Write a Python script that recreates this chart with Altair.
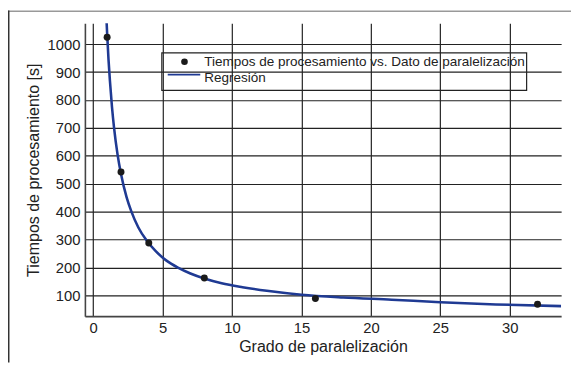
import altair as alt
import pandas as pd

# Measured data points
grado = [1, 2, 4, 8, 16, 32]
tiempos = [1025, 542, 287, 162, 88, 68]

# Regression curve
reg_x = [0.9, 1.0, 1.1, 1.2, 1.35, 1.5, 1.75, 2.0, 2.4, 2.75, 3.25, 3.86, 4.5, 5.25, 6.1,
         7.0, 8.0, 9.25, 10.75, 12.5, 15.0, 18.0, 21.5, 25.0, 29.0, 33.7]
reg_y = [1145, 1040, 945, 870, 775, 700, 605, 535, 452, 400, 343, 295, 258, 225, 199,
         178, 160, 143, 129, 116, 102, 92, 84, 75, 67, 61]

x_ticks = [0, 5, 10, 15, 20, 25, 30]
y_ticks = [100, 200, 300, 400, 500, 600, 700, 800, 900, 1000]

legend_labels = ["Tiempos de procesamiento vs. Dato de paralelización", "Regresión"]

FONT = "Liberation Sans"
pts = pd.DataFrame({"grado": grado, "tiempo": tiempos})
reg = pd.DataFrame({"grado": reg_x, "tiempo": reg_y})
one = pd.DataFrame({"k": [0]})

x_scale = alt.Scale(domain=[-0.6, 33.7], nice=False, zero=False)
y_scale = alt.Scale(domain=[25, 1075], nice=False, zero=False)

x_enc = alt.X("grado:Q", scale=x_scale,
              axis=alt.Axis(title="Grado de paralelización", values=x_ticks, format="d",
                            tickCount=len(x_ticks), labelOverlap=False))
y_enc = alt.Y("tiempo:Q", scale=y_scale,
              axis=alt.Axis(title="Tiempos de procesamiento [s]", values=y_ticks, format="d",
                            tickCount=len(y_ticks), labelOverlap=False))

line = alt.Chart(reg).mark_line(color="#1f3a93", strokeWidth=2.6, clip=True,
                                interpolate="monotone").encode(x=x_enc, y=y_enc)
points = alt.Chart(pts).mark_point(filled=True, color="#1a1a1a", size=50, opacity=1).encode(
    x="grado:Q", y="tiempo:Q")

# Legend (manual)
leg_box = alt.Chart(one).mark_rect(fill=None, stroke="#222", strokeWidth=1.2).encode(
    x=alt.value(78), x2=alt.value(448), y=alt.value(30), y2=alt.value(68))
leg_dot = alt.Chart(one).mark_point(filled=True, color="#1a1a1a", size=45, opacity=1).encode(
    x=alt.value(101), y=alt.value(39))
leg_line = alt.Chart(one).mark_rule(color="#1f3a93", strokeWidth=1.6).encode(
    x=alt.value(84), x2=alt.value(117), y=alt.value(52))
leg_t1 = alt.Chart(one).mark_text(align="left", baseline="middle", font=FONT, fontSize=13.7,
                                  color="#222", text=legend_labels[0]).encode(
    x=alt.value(121), y=alt.value(39))
leg_t2 = alt.Chart(one).mark_text(align="left", baseline="middle", font=FONT, fontSize=13.7,
                                  color="#222", text=legend_labels[1]).encode(
    x=alt.value(121), y=alt.value(56))

# Outer frame (top and left)
frame_top = alt.Chart(one).mark_rule(color="#999", strokeWidth=1.5).encode(
    x=alt.value(-78), x2=alt.value(493), y=alt.value(-12.25))
frame_left = alt.Chart(one).mark_rule(color="#333", strokeWidth=1.5).encode(
    x=alt.value(-77.25), y=alt.value(-13), y2=alt.value(344))

chart = alt.layer(frame_top, frame_left, line, points, leg_box, leg_dot, leg_line, leg_t1, leg_t2).properties(
    width=483, height=297,
    autosize=alt.AutoSizeParams(type="none"),
    padding={"left": 78, "top": 13, "right": 10, "bottom": 47},
).configure_view(stroke=None).configure_axis(
    domainColor="#444", domainWidth=1.6,
    gridColor="#222", gridWidth=1.2, gridOpacity=1,
    tickSize=0, labelFont=FONT, labelFontSize=15, labelColor="#222",
    labelPadding=5, titleFont=FONT, titleFontSize=16.2, titleFontWeight="normal",
    titleColor="#222",
).configure_axisX(titlePadding=3).configure_axisY(titlePadding=6)

chart.save("out.html", embed_options={"renderer": "svg", "actions": False})
